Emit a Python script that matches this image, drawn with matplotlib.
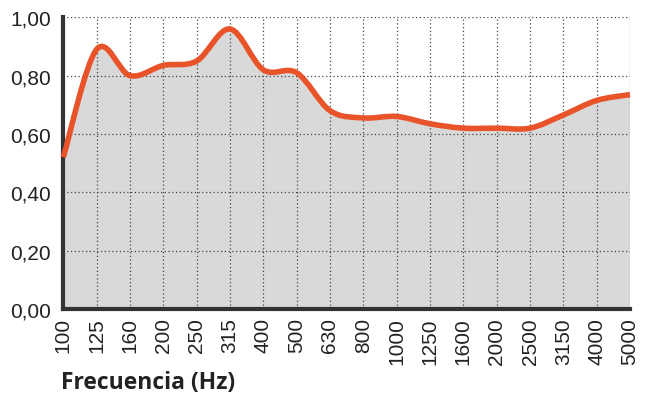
import matplotlib
matplotlib.use('Agg')
import matplotlib.pyplot as plt
from matplotlib.path import Path
from matplotlib.patches import PathPatch
import numpy as np

# Data
FREQS = ['100', '125', '160', '200', '250', '315', '400', '500', '630', '800',
         '1000', '1250', '1600', '2000', '2500', '3150', '4000', '5000']
ABSORPTION = [0.52, 0.89, 0.80, 0.835, 0.85, 0.96, 0.82, 0.81, 0.68, 0.655,
              0.66, 0.635, 0.62, 0.62, 0.62, 0.665, 0.715, 0.735]
Y_TICKS = [0.0, 0.2, 0.4, 0.6, 0.8, 1.0]
Y_LABELS = ['0,00', '0,20', '0,40', '0,60', '0,80', '1,00']

LINE_COLOR = '#e8532a'
FILL_COLOR = '#d9d9d9'
DARK = '#333333'


def smooth_path(xs, ys):
    """Catmull-Rom curve through the points, as cubic Bezier segments."""
    pts = np.column_stack([xs, ys])
    ext = np.vstack([pts[0], pts, pts[-1]])
    verts = [tuple(pts[0])]
    codes = [Path.MOVETO]
    for i in range(1, len(ext) - 2):
        p0, p1, p2, p3 = ext[i - 1], ext[i], ext[i + 1], ext[i + 2]
        c1 = p1 + (p2 - p0) / 6.0
        c2 = p2 - (p3 - p1) / 6.0
        verts += [tuple(c1), tuple(c2), tuple(p2)]
        codes += [Path.CURVE4] * 3
    return verts, codes


plt.rcParams['font.family'] = ['Liberation Sans', 'DejaVu Sans']

fig = plt.figure(figsize=(6.56, 4.02), dpi=100)
ax = fig.add_axes([0.0965, 0.2289, 0.9604 - 0.0965, 0.9545 - 0.2289])

x = np.arange(len(FREQS))
verts, codes = smooth_path(x, ABSORPTION)

# gray area under the curve
fill_verts = verts + [(x[-1], 0.0), (x[0], 0.0), verts[0]]
fill_codes = codes + [Path.LINETO, Path.LINETO, Path.CLOSEPOLY]
ax.add_patch(PathPatch(Path(fill_verts, fill_codes), facecolor=FILL_COLOR,
                       edgecolor='none', zorder=1))
# orange curve
ax.add_patch(PathPatch(Path(verts, codes), facecolor='none', edgecolor=LINE_COLOR,
                       linewidth=4.0, capstyle='butt', joinstyle='round', zorder=4,
                       clip_on=False))

ax.set_xlim(0, len(FREQS) - 1)
ax.set_ylim(0, 1.0)
ax.set_xticks(x)
ax.set_xticklabels(FREQS, rotation=90, fontsize=15, color='#222222')
ax.set_yticks(Y_TICKS)
ax.set_yticklabels(Y_LABELS, fontsize=15, color='#222222')
ax.tick_params(axis='both', length=0)
ax.tick_params(axis='x', pad=6)
ax.tick_params(axis='y', pad=9)

ax.grid(True, linestyle=(0, (1, 2)), color='#444444', linewidth=0.9, zorder=2)
ax.set_axisbelow(False)

for side in ['top', 'right']:
    ax.spines[side].set_visible(False)
for side in ['left', 'bottom']:
    ax.spines[side].set_color(DARK)
    ax.spines[side].set_linewidth(3.0)
    ax.spines[side].set_zorder(3)

fig.text(61 / 656, 1 - 383 / 402, 'Frecuencia (Hz)', fontsize=16.5, fontweight='bold',
         family=['Open Sans', 'DejaVu Sans'], color='#222222', ha='left', va='center')

fig.savefig('out.png', dpi=100)
